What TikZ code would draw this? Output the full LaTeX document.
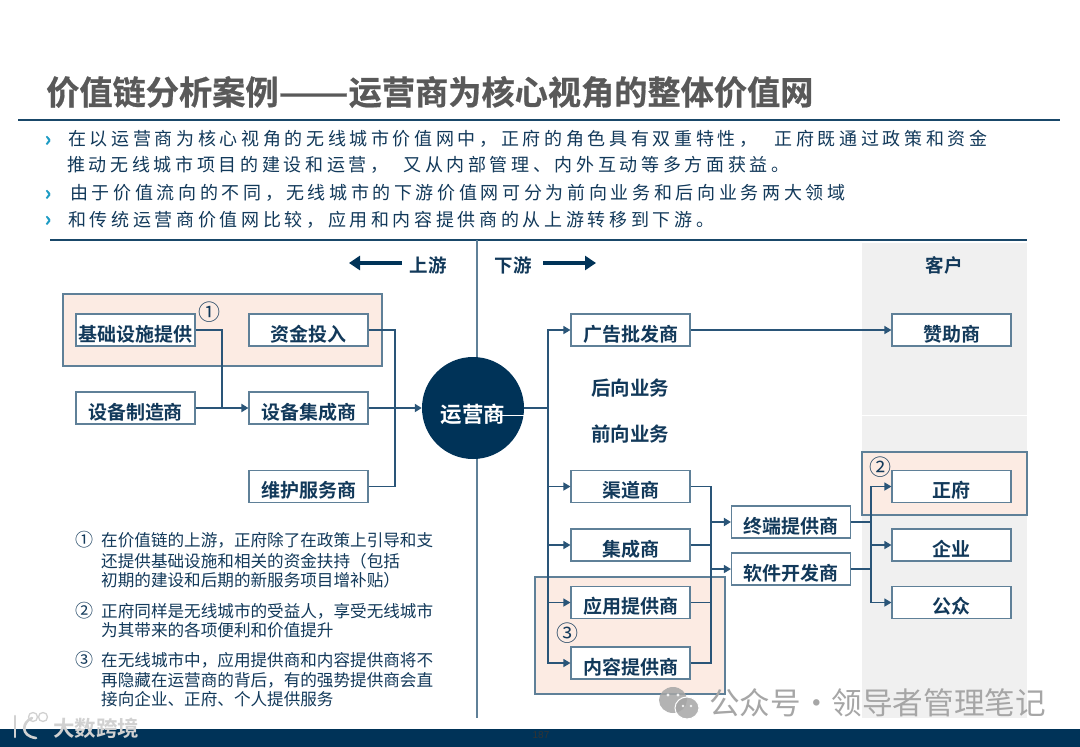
\documentclass[tikz,border=0pt]{standalone}
\usepackage{fontspec}
\usetikzlibrary{arrows.meta,calc}
\setmainfont{Liberation Sans}
\newfontfamily\cjkreg{Noto Sans CJK SC}
\newfontfamily\cjkbold{Noto Sans CJK SC Bold}
\newfontfamily\cjkheavy[FakeBold=0.6]{Noto Sans CJK SC Bold}
\newfontfamily\cjkspaced[LetterSpace=20.3]{Noto Sans CJK SC}
\newcommand\fwc{^^^^ff0c}
\newcommand\fwl{^^^^ff08}
\newcommand\fwr{^^^^ff09}
\definecolor{navy}{HTML}{003358}
\definecolor{inktext}{HTML}{12395A}
\definecolor{wire}{HTML}{2A5578}
\definecolor{edge}{HTML}{5F8098}
\definecolor{pinkbg}{HTML}{FCEBE3}
\definecolor{greybg}{HTML}{F0F0F0}
\definecolor{teal2}{HTML}{1E9CC4}
\tikzset{
  x=1pt,y=-1pt,
  boxnode/.style={draw=edge,line width=1.1pt,fill=white,minimum width=119pt,minimum height=32pt,inner sep=0pt,
    text height=22pt,text depth=0pt,text=inktext,font=\cjkbold\fontsize{19}{20}\selectfont},
  panel/.style={draw=edge,line width=1.1pt,fill=pinkbg},
  wirepath/.style={draw=wire,line width=1.3pt},
  arrowpath/.style={wirepath,-{Triangle[length=7pt,width=8pt]}},
  thickarrow/.style={draw=wire,line width=2.2pt,-{Triangle[length=7pt,width=8pt]}},
  bigarrow/.style={draw=navy,line width=4pt,-{Triangle[length=11pt,width=14pt]}},
  bullettext/.style={anchor=west,inner sep=0pt,text=inktext,font=\cjkspaced\fontsize{18}{20}\selectfont},
  chevron/.style={anchor=center,inner sep=0pt,text=teal2,font=\cjkheavy\fontsize{20}{20}\selectfont},
  headtext/.style={inner sep=0pt,text=inktext,font=\cjkbold\fontsize{18.5}{20}\selectfont},
  sidetext/.style={inner sep=0pt,text=inktext,font=\cjkbold\fontsize{19.5}{20}\selectfont},
  notetext/.style={anchor=west,inner sep=0pt,text=inktext,font=\cjkreg\fontsize{16.6}{18}\selectfont},
  numtext/.style={inner sep=0pt,text=inktext,font=\cjkreg\fontsize{22}{22}\selectfont},
  marktext/.style={inner sep=0pt,text=inktext,font=\cjkreg\fontsize{18}{18}\selectfont},
}
\begin{document}
\begin{tikzpicture}
\useasboundingbox (0,0) rectangle (1080,747);
\fill[white] (0,0) rectangle (1080,747);
% backgrounds
\fill[greybg] (862,243) rectangle (1027,718);
\draw[white,line width=1pt] (505,415) -- (1027,415);
\fill[navy] (0,729) rectangle (1080,747);
\node[inner sep=0pt,text=black!80,font=\fontsize{10}{10}\selectfont] (pageno) at (541,735) {187};
% title
\node[anchor=west,inner sep=0pt,text=black!65,font=\cjkheavy\fontsize{33.2}{36}\selectfont] (title) at (46,92) {价值链分析案例\scalebox{1.24}[1]{——}运营商为核心视角的整体价值网};
\draw[draw=navy!90,line width=2pt] (18,120) -- (1060,120);
\draw[draw=navy!90,line width=2pt] (50,240) -- (1027,240);
\draw[draw=edge,line width=1.3pt] (477,240) -- (477,718);
% bullets
\node[chevron] (c1) at (48,141) {›};
\node[bullettext] (b1) at (68,139) {在以运营商为核心视角的无线城市价值网中\fwc 正府的角色具有双重特性\fwc\hspace{17pt}正府既通过政策和资金};
\node[bullettext] (b2) at (67,165) {推动无线城市项目的建设和运营\fwc\hspace{15pt}又从内部管理、内外互动等多方面获益。};
\node[chevron] (c2) at (48,195) {›};
\node[bullettext] (b3) at (70,193) {由于价值流向的不同\fwc\hspace{3pt}无线城市的下游价值网可分为前向业务和后向业务两大领域};
\node[chevron] (c3) at (48,221) {›};
\node[bullettext] (b4) at (68,220) {和传统运营商价值网比较\fwc 应用和内容提供商的从上游转移到下游。};
% heading row
\coordinate (upA) at (402,263);
\coordinate (upB) at (349,263);
\coordinate (dnA) at (543,263);
\coordinate (dnB) at (596,263);
\draw[bigarrow] (upA) -- (upB);
\draw[bigarrow] (dnA) -- (dnB);
\node[headtext] (up) at (428,265.5) {上游};
\node[headtext] (dn) at (513,265.5) {下游};
\node[headtext] (kehu) at (944,265.5) {客户};
\node[sidetext] (hx) at (630,388) {后向业务};
\node[sidetext] (qx) at (630,434.5) {前向业务};
% panels
\path[panel] (63,294) rectangle (382,366);
\path[panel] (862,452) rectangle (1027,515);
\path[panel] (535,577) rectangle (725,694);
% boxes
\node[boxnode] (jichu) at (135.5,330) {基础设施提供};
\node[boxnode] (zijin) at (308.5,330) {资金投入};
\node[boxnode] (zhizao) at (135.5,408) {设备制造商};
\node[boxnode] (jicheng) at (308.5,408) {设备集成商};
\node[boxnode] (weihu) at (308.5,486.5) {维护服务商};
\node[boxnode] (guanggao) at (630.5,330) {广告批发商};
\node[boxnode] (zanzhu) at (951.5,330) {赞助商};
\node[boxnode] (qudao) at (630.5,486.5) {渠道商};
\node[boxnode] (jcs) at (630.5,545) {集成商};
\node[boxnode] (yingyong) at (630.5,602.5) {应用提供商};
\node[boxnode] (neirong) at (630.5,663) {内容提供商};
\node[boxnode] (zhongduan) at (791,522) {终端提供商};
\node[boxnode] (ruanjian) at (791,569) {软件开发商};
\node[boxnode] (zhengfu) at (951.5,486.5) {正府};
\node[boxnode] (qiye) at (951.5,545) {企业};
\node[boxnode] (gongzhong) at (951.5,602.5) {公众};
% operator
\node[circle,fill=navy,minimum size=102pt,inner sep=0pt] (op) at (473,408) {};
\node[inner sep=0pt,text=white,font=\cjkbold\fontsize{21.5}{22}\selectfont] (oplabel) at (473,414) {运营商};
\draw[white,line width=0.8pt] (498,415) -- (525,415);
% numbers
\node[numtext] (n1) at (209,312) {①};
\node[numtext] (n2) at (880,467) {②};
\node[numtext] (n3) at (567,633) {③};
% left connectors
\coordinate (jl) at (222,408);
\coordinate (jr) at (395,408);
\draw[wirepath] (jichu.east) -| (jl);
\draw[wirepath] (zhizao.east) -- (jl);
\draw[thickarrow] (jl) -- (jicheng.west);
\draw[wirepath] (zijin.east) -| (jr);
\draw[wirepath] (weihu.east) -| (jr);
\draw[wirepath] (jicheng.east) -- (jr);
\draw[thickarrow] (jr) -- (op.west);
% operator outgoing
\coordinate (jo) at (548,408);
\draw[draw=wire,line width=2.2pt] (op.east) -- (jo);
\draw[arrowpath] (jo) |- (guanggao.west);
\draw[arrowpath] (jo) |- (qudao.west);
\draw[arrowpath] (jo) |- (jcs.west);
\draw[arrowpath] (jo) |- (yingyong.west);
\draw[arrowpath] (jo) |- (neirong.west);
\draw[arrowpath] (guanggao.east) -- (zanzhu.west);
% middle
\coordinate (jm) at (711,522);
\coordinate (jm2) at (711,569);
\draw[wirepath] (qudao.east) -| (jm);
\draw[wirepath] (jcs.east) -| (jm);
\draw[wirepath] (yingyong.east) -| (jm);
\draw[wirepath] (neirong.east) -| (jm);
\draw[thickarrow] (jm) -- (zhongduan.west);
\draw[arrowpath] (jm2) -- (ruanjian.west);
% right
\coordinate (jt) at (871,522);
\coordinate (jt2) at (871,569);
\draw[draw=wire,line width=2.2pt] (zhongduan.east) -- (jt);
\draw[wirepath] (ruanjian.east) -- (jt2);
\draw[arrowpath] (jt) |- (zhengfu.west);
\draw[arrowpath] (jt) |- (qiye.west);
\draw[arrowpath] (jt) |- (gongzhong.west);
% notes
\node[marktext] (m1) at (84,540) {①};
\node[notetext] (t11) at (101,540) {在价值链的上游\fwc 正府除了在政策上引导和支};
\node[notetext] (t12) at (101,561) {还提供基础设施和相关的资金扶持\fwl 包括};
\node[notetext] (t13) at (101,580) {初期的建设和后期的新服务项目增补贴\fwr};
\node[marktext] (m2) at (84,611) {②};
\node[notetext] (t21) at (101,611) {正府同样是无线城市的受益人\fwc 享受无线城市};
\node[notetext] (t22) at (101,630) {为其带来的各项便利和价值提升};
\node[marktext] (m3) at (84,660) {③};
\node[notetext] (t31) at (101,660) {在无线城市中\fwc 应用提供商和内容提供商将不};
\node[notetext] (t32) at (101,680) {再隐藏在运营商的背后\fwc 有的强势提供商会直};
\node[notetext] (t33) at (101,699) {接向企业、正府、个人提供服务};
% watermarks
\begin{scope}[fill opacity=.85,text opacity=.85]
\fill[black!35] (673,700) ellipse (14 and 13);
\fill[black!35,draw=white,line width=1pt] (687,708) ellipse (12 and 11);
\fill[white] (668,695) circle (1.6) (678,695) circle (1.6) (683,706) circle (1.4) (691,706) circle (1.4);
\end{scope}
\node[anchor=west,inner sep=0pt,text=black!35,font=\cjkreg\fontsize{30.6}{30}\selectfont] (wm) at (709,703) {公众号^^^^30fb领导者管理笔记};
\node[anchor=west,inner sep=0pt,text=black!18,font=\cjkbold\fontsize{21.5}{24}\selectfont] (wm2) at (53,728) {大数跨境};
\draw[black!18,line width=2.6pt,line cap=round] (15,716) -- (15,737);
\draw[black!18,line width=2.6pt,line cap=round] (32,718) .. controls (22,722) and (20,736) .. (36,738);
\draw[black!18,line width=1.3pt] (33,717) circle (4.5) (43,717) circle (4.5);
\end{tikzpicture}
\end{document}
